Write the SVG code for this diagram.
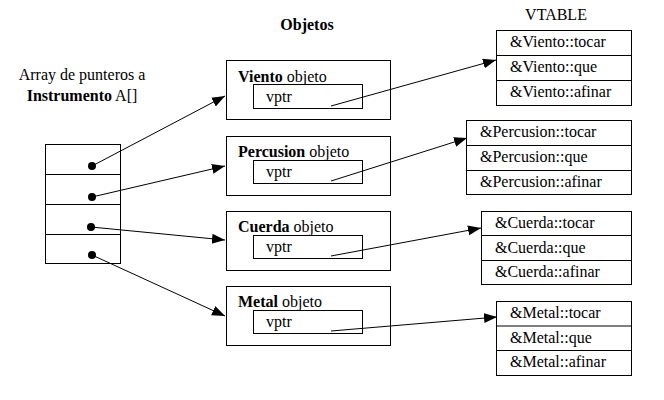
<svg xmlns="http://www.w3.org/2000/svg" width="664" height="400" viewBox="0 0 664 400">
<defs>
<style>
text{font-family:"Liberation Serif","Times New Roman",serif;font-size:16px;fill:#000}
.b{font-weight:bold}
.box{fill:#fff;stroke:#000;stroke-width:1}
.ln{stroke:#000;stroke-width:1;fill:none}
.con{stroke:#000;stroke-width:1;fill:none;marker-end:url(#ah)}
</style>
<marker id="ah" markerUnits="userSpaceOnUse" markerWidth="14" markerHeight="12" refX="13" refY="5" orient="auto">
<path d="M0,0 L13,5 L0,10 Z" fill="#000"/>
</marker>
</defs>
<rect width="664" height="400" fill="#fff"/>
<text x="82" y="80" text-anchor="middle">Array de punteros a</text>
<text x="82" y="101" text-anchor="middle"><tspan class="b">Instrumento</tspan> A[]</text>
<text x="307" y="30" text-anchor="middle" class="b">Objetos</text>
<text x="556" y="20" text-anchor="middle">VTABLE</text>

<g id="array">
<rect class="box" x="45.5" y="144.5" width="75" height="119"/>
<line class="ln" x1="45.5" y1="174.5" x2="120.5" y2="174.5"/>
<line class="ln" x1="45.5" y1="204.5" x2="120.5" y2="204.5"/>
<line class="ln" x1="45.5" y1="234.5" x2="120.5" y2="234.5"/>
<circle cx="92" cy="166" r="4"/>
<circle cx="92" cy="197" r="4"/>
<circle cx="91" cy="227" r="4"/>
<circle cx="92" cy="255" r="4"/>
</g>

<g id="viento">
<rect class="box" x="226.5" y="60.5" width="164" height="59"/>
<text x="238" y="82"><tspan class="b">Viento</tspan> objeto</text>
<rect class="box" x="253.5" y="84.5" width="109" height="24"/>
<text x="266" y="102">vptr</text>
</g>
<g id="percusion">
<rect class="box" x="226.5" y="136.5" width="164" height="59"/>
<text x="238" y="157"><tspan class="b">Percusion</tspan> objeto</text>
<rect class="box" x="253.5" y="160.5" width="109" height="23"/>
<text x="266" y="177">vptr</text>
</g>
<g id="cuerda">
<rect class="box" x="226.5" y="211.5" width="164" height="59"/>
<text x="238" y="232"><tspan class="b">Cuerda</tspan> objeto</text>
<rect class="box" x="253.5" y="235.5" width="109" height="23"/>
<text x="266" y="252">vptr</text>
</g>
<g id="metal">
<rect class="box" x="226.5" y="286.5" width="164" height="59"/>
<text x="238" y="307"><tspan class="b">Metal</tspan> objeto</text>
<rect class="box" x="253.5" y="310.5" width="109" height="23"/>
<text x="266" y="327">vptr</text>
</g>

<g id="vt-viento">
<rect class="box" x="496.5" y="30.5" width="135" height="75"/>
<line class="ln" x1="496.5" y1="55.5" x2="631.5" y2="55.5"/>
<line class="ln" x1="496.5" y1="80.5" x2="631.5" y2="80.5"/>
<text x="510" y="47">&amp;Viento::tocar</text>
<text x="510" y="72">&amp;Viento::que</text>
<text x="510" y="97">&amp;Viento::afinar</text>
</g>
<g id="vt-percusion">
<rect class="box" x="466.5" y="120.5" width="165" height="74"/>
<line class="ln" x1="466.5" y1="145.5" x2="631.5" y2="145.5" stroke-width="2"/>
<line class="ln" x1="466.5" y1="170.5" x2="631.5" y2="170.5"/>
<text x="480" y="137">&amp;Percusion::tocar</text>
<text x="480" y="162">&amp;Percusion::que</text>
<text x="480" y="187">&amp;Percusion::afinar</text>
</g>
<g id="vt-cuerda">
<rect class="box" x="481.5" y="211.5" width="150" height="73"/>
<line class="ln" x1="481.5" y1="235.5" x2="631.5" y2="235.5" stroke-width="2"/>
<line class="ln" x1="481.5" y1="260.5" x2="631.5" y2="260.5" stroke-width="2"/>
<text x="495" y="228">&amp;Cuerda::tocar</text>
<text x="495" y="253">&amp;Cuerda::que</text>
<text x="495" y="277">&amp;Cuerda::afinar</text>
</g>
<g id="vt-metal">
<rect class="box" x="496.5" y="301.5" width="135" height="74"/>
<line class="ln" x1="496.5" y1="326" x2="631.5" y2="326" stroke-width="2"/>
<line class="ln" x1="496.5" y1="350.5" x2="631.5" y2="350.5"/>
<text x="510" y="318">&amp;Metal::tocar</text>
<text x="510" y="343">&amp;Metal::que</text>
<text x="510" y="367">&amp;Metal::afinar</text>
</g>

<g id="connectors">
<line class="con" x1="92" y1="166" x2="225" y2="96"/>
<line class="con" x1="92" y1="197" x2="225" y2="166"/>
<line class="con" x1="91" y1="227" x2="225" y2="240"/>
<line class="con" x1="92" y1="255" x2="225" y2="316"/>
<line class="con" x1="331" y1="106" x2="496" y2="60"/>
<line class="con" x1="331" y1="181" x2="467" y2="138"/>
<line class="con" x1="331" y1="256" x2="481" y2="228"/>
<line class="con" x1="331" y1="331" x2="497" y2="317"/>
</g>
</svg>
